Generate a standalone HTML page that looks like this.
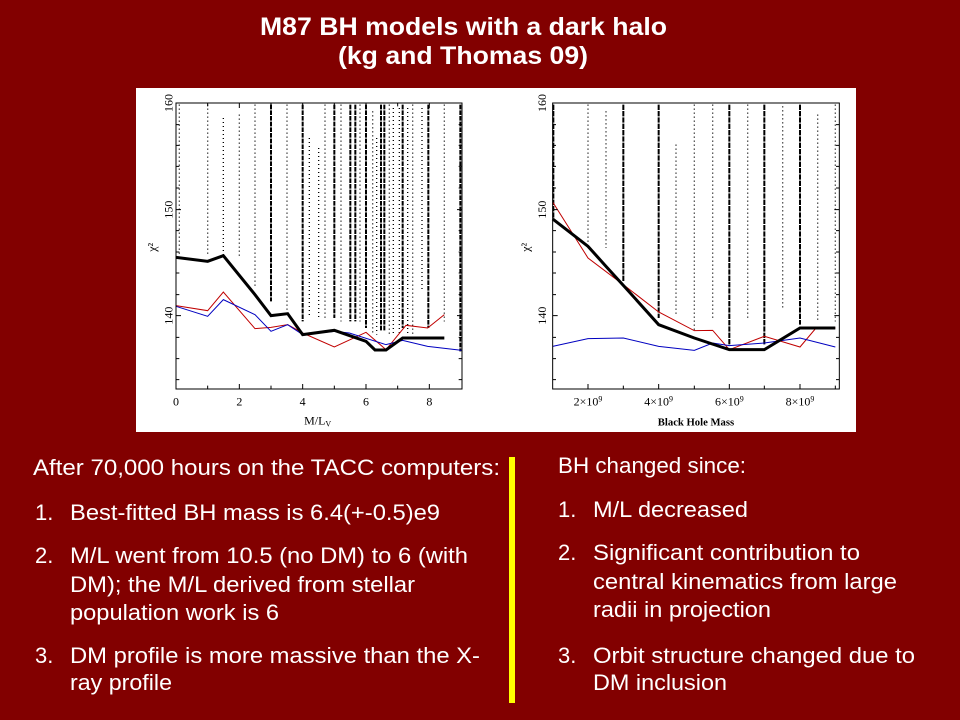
<!DOCTYPE html>
<html><head><meta charset="utf-8"><style>
html,body{margin:0;padding:0;background:#820000;}
svg{display:block;}
.t{font-family:"Liberation Sans",Arial,sans-serif;fill:#fff;font-size:22px;}
.h{font-family:"Liberation Sans",Arial,sans-serif;fill:#fff;font-size:25px;font-weight:bold;}
.ax{font-family:"Liberation Serif",serif;font-size:36px;fill:#000;}
</style></head><body>
<svg width="960" height="720" viewBox="0 0 960 720" xmlns="http://www.w3.org/2000/svg">
<rect width="960" height="720" fill="#820000"/>
<text class="h" x="260" y="35" textLength="407" lengthAdjust="spacingAndGlyphs">M87 BH models with a dark halo</text>
<text class="h" x="338" y="64" textLength="250" lengthAdjust="spacingAndGlyphs">(kg and Thomas 09)</text>
<rect x="136" y="88" width="720" height="344" fill="#fff"/>

<g transform="translate(136,88) scale(0.33333)">
 <g stroke="#000" fill="none">
  <g stroke-width="4" stroke-dasharray="3 9">
   <line x1="130" y1="50" x2="130" y2="500"/>
   <line x1="215" y1="50" x2="215" y2="500"/>
   <line x1="262" y1="90" x2="262" y2="500"/>
   <line x1="310" y1="80" x2="310" y2="510"/>
   <line x1="357" y1="50" x2="357" y2="600"/>
   <line x1="453" y1="50" x2="453" y2="680"/>
   <line x1="520" y1="150" x2="520" y2="690"/>
   <line x1="548" y1="180" x2="548" y2="690"/>
   <line x1="567" y1="50" x2="567" y2="690"/>
   <line x1="615" y1="50" x2="615" y2="700"/>
   <line x1="672" y1="50" x2="672" y2="700"/>
   <line x1="710" y1="70" x2="710" y2="740"/>
   <line x1="722" y1="150" x2="722" y2="740"/>
   <line x1="760" y1="50" x2="760" y2="740"/>
   <line x1="772" y1="60" x2="772" y2="740"/>
   <line x1="790" y1="60" x2="790" y2="740"/>
   <line x1="815" y1="60" x2="815" y2="740"/>
   <line x1="830" y1="50" x2="830" y2="740"/>
   <line x1="858" y1="60" x2="858" y2="610"/>
   <line x1="925" y1="50" x2="925" y2="700"/>
  </g>
  <g stroke-width="6" stroke-dasharray="14 3">
   <line x1="405" y1="50" x2="405" y2="640"/>
   <line x1="500" y1="50" x2="500" y2="700"/>
   <line x1="595" y1="50" x2="595" y2="690"/>
   <line x1="643" y1="50" x2="643" y2="700"/>
   <line x1="658" y1="50" x2="658" y2="700"/>
   <line x1="690" y1="50" x2="690" y2="720"/>
   <line x1="735" y1="50" x2="735" y2="730"/>
   <line x1="745" y1="50" x2="745" y2="730"/>
   <line x1="800" y1="50" x2="800" y2="720"/>
   <line x1="877" y1="50" x2="877" y2="720"/>
   <line x1="973" y1="50" x2="973" y2="790"/>
  </g>
 </g>
 <polyline fill="none" stroke="#c00000" stroke-width="3" points="120,653 215,668 262,612 357,722 405,718 455,710 500,735 595,777 690,733 750,785 810,712 875,720 925,680"/>
 <polyline fill="none" stroke="#0000c0" stroke-width="3" points="120,655 215,685 262,635 357,680 405,730 455,710 500,740 595,730 640,735 750,770 800,757 875,775 978,787"/>
 <polyline fill="none" stroke="#000" stroke-width="9" points="120,508 215,520 262,503 357,620 405,683 455,677 500,740 595,727 690,760 717,786 750,786 800,750 925,750"/>
 <rect x="120" y="45" width="858" height="858" fill="none" stroke="#000" stroke-width="3"/>
 <g stroke="#000" stroke-width="3">
  <path d="M120,45h15M120,110h10M120,172h10M120,235h10M120,300h10M120,365h15M120,428h10M120,492h10M120,555h10M120,620h10M120,683h15M120,748h10M120,812h10M120,875h10"/>
  <path d="M978,45h-15M978,110h-10M978,172h-10M978,235h-10M978,300h-10M978,365h-15M978,428h-10M978,492h-10M978,555h-10M978,620h-10M978,683h-15M978,748h-10M978,812h-10M978,875h-10"/>
  <path d="M215,903v-10M310,903v-15M405,903v-10M500,903v-15M595,903v-10M690,903v-15M785,903v-10M880,903v-15M215,45v10M310,45v15M405,45v10M500,45v15M595,45v10M690,45v15M785,45v10M880,45v15"/>
 </g>
 <g class="ax" text-anchor="middle">
  <text x="120" y="952">0</text><text x="310" y="952">2</text><text x="500" y="952">4</text><text x="690" y="952">6</text><text x="880" y="952">8</text>
  <text transform="translate(100,45) rotate(-90)" y="10">160</text>
  <text transform="translate(100,365) rotate(-90)" y="10">150</text>
  <text transform="translate(100,683) rotate(-90)" y="10">140</text>
  <text transform="translate(50,478) rotate(-90)" y="10">χ²</text>
  <text x="545" y="1010">M/L<tspan font-size="24" dy="6">V</tspan></text>
 </g>
</g>

<g transform="translate(496,88) scale(0.33333)">
 <g stroke="#000" fill="none">
  <g stroke-width="4" stroke-dasharray="3 9">
   <line x1="276" y1="50" x2="276" y2="470"/>
   <line x1="330" y1="70" x2="330" y2="480"/>
   <line x1="540" y1="170" x2="540" y2="680"/>
   <line x1="595" y1="50" x2="595" y2="730"/>
   <line x1="650" y1="50" x2="650" y2="690"/>
   <line x1="755" y1="50" x2="755" y2="690"/>
   <line x1="860" y1="55" x2="860" y2="660"/>
   <line x1="965" y1="80" x2="965" y2="700"/>
   <line x1="1018" y1="50" x2="1018" y2="700"/>
  </g>
  <g stroke-width="6" stroke-dasharray="16 3">
   <line x1="172" y1="50" x2="172" y2="390"/>
   <line x1="382" y1="50" x2="382" y2="580"/>
   <line x1="488" y1="50" x2="488" y2="690"/>
   <line x1="700" y1="50" x2="700" y2="770"/>
   <line x1="805" y1="50" x2="805" y2="770"/>
   <line x1="912" y1="50" x2="912" y2="710"/>
  </g>
 </g>
 <polyline fill="none" stroke="#c00000" stroke-width="3" points="170,342 276,510 382,590 488,672 595,728 650,727 700,785 805,745 912,777 960,720 1018,720"/>
 <polyline fill="none" stroke="#0000c0" stroke-width="3" points="170,775 276,752 382,750 488,775 595,787 650,765 700,773 805,765 912,750 1018,777"/>
 <polyline fill="none" stroke="#000" stroke-width="9" points="170,393 276,475 330,535 382,592 488,710 595,750 700,785 805,785 912,720 1018,720"/>
 <rect x="170" y="45" width="860" height="858" fill="none" stroke="#000" stroke-width="3"/>
 <g stroke="#000" stroke-width="3">
  <path d="M170,110h10M170,172h10M170,235h10M170,300h10M170,365h15M170,428h10M170,492h10M170,555h10M170,620h10M170,683h15M170,748h10M170,812h10M170,875h10"/>
  <path d="M1030,110h-10M1030,172h-10M1030,235h-10M1030,300h-10M1030,365h-15M1030,428h-10M1030,492h-10M1030,555h-10M1030,620h-10M1030,683h-15M1030,748h-10M1030,812h-10M1030,875h-10"/>
  <path d="M276,903v-15M382,903v-10M488,903v-15M595,903v-10M700,903v-15M805,903v-10M912,903v-15M1018,903v-10"/>
 </g>
 <g class="ax" text-anchor="middle">
  <text x="276" y="952">2×10<tspan font-size="24" dy="-12">9</tspan></text>
  <text x="488" y="952">4×10<tspan font-size="24" dy="-12">9</tspan></text>
  <text x="700" y="952">6×10<tspan font-size="24" dy="-12">9</tspan></text>
  <text x="912" y="952">8×10<tspan font-size="24" dy="-12">9</tspan></text>
  <text transform="translate(140,45) rotate(-90)" y="10">160</text>
  <text transform="translate(140,365) rotate(-90)" y="10">150</text>
  <text transform="translate(140,683) rotate(-90)" y="10">140</text>
  <text transform="translate(90,478) rotate(-90)" y="10">χ²</text>
  <text x="600" y="1012" font-weight="bold" font-size="32">Black Hole Mass</text>
 </g>
</g>

<rect x="509" y="457" width="6" height="246" fill="#ffff00"/>

<text class="t" x="33" y="475" textLength="467" lengthAdjust="spacingAndGlyphs">After 70,000 hours on the TACC computers:</text>
<text class="t" x="35" y="520">1.</text>
<text class="t" x="70" y="520" textLength="370" lengthAdjust="spacingAndGlyphs">Best-fitted BH mass is 6.4(+-0.5)e9</text>
<text class="t" x="35" y="563">2.</text>
<text class="t" x="70" y="563" textLength="398" lengthAdjust="spacingAndGlyphs">M/L went from 10.5 (no DM) to 6 (with</text>
<text class="t" x="70" y="592" textLength="345" lengthAdjust="spacingAndGlyphs">DM); the M/L derived from stellar</text>
<text class="t" x="70" y="620" textLength="209" lengthAdjust="spacingAndGlyphs">population work is 6</text>
<text class="t" x="35" y="663">3.</text>
<text class="t" x="70" y="663" textLength="410" lengthAdjust="spacingAndGlyphs">DM profile is more massive than the X-</text>
<text class="t" x="70" y="690" textLength="102" lengthAdjust="spacingAndGlyphs">ray profile</text>

<text class="t" x="558" y="473" textLength="188" lengthAdjust="spacingAndGlyphs">BH changed since:</text>
<text class="t" x="558" y="517">1.</text>
<text class="t" x="593" y="517" textLength="155" lengthAdjust="spacingAndGlyphs">M/L decreased</text>
<text class="t" x="558" y="560">2.</text>
<text class="t" x="593" y="560" textLength="267" lengthAdjust="spacingAndGlyphs">Significant contribution to</text>
<text class="t" x="593" y="589" textLength="304" lengthAdjust="spacingAndGlyphs">central kinematics from large</text>
<text class="t" x="593" y="617" textLength="178" lengthAdjust="spacingAndGlyphs">radii in projection</text>
<text class="t" x="558" y="663">3.</text>
<text class="t" x="593" y="663" textLength="322" lengthAdjust="spacingAndGlyphs">Orbit structure changed due to</text>
<text class="t" x="593" y="690" textLength="134" lengthAdjust="spacingAndGlyphs">DM inclusion</text>
</svg>
</body></html>
